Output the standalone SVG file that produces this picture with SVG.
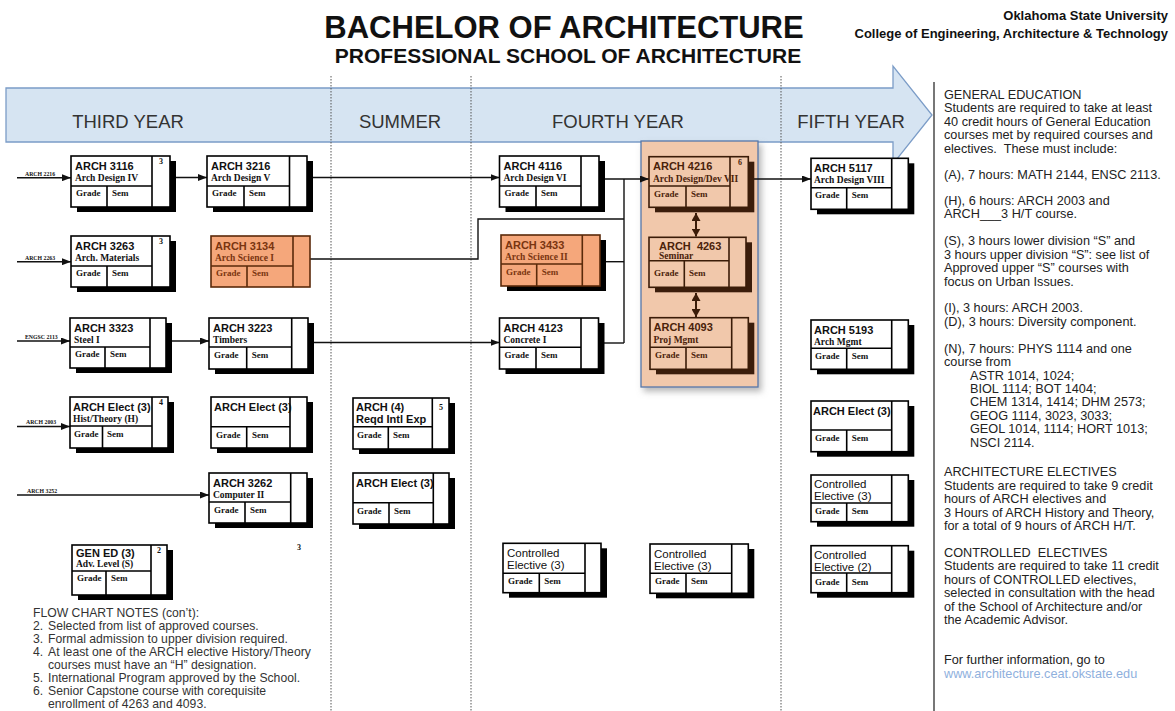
<svg xmlns="http://www.w3.org/2000/svg" width="1175" height="711" viewBox="0 0 1175 711">
<style>
.bx{fill:#fff;stroke:#000;stroke-width:1.6}
.bo{fill:#f5a77b;stroke:#5a2a0a;stroke-width:1.6}
.sh{fill:#000}
.shb{fill:#3b1d0b}
.dv{fill:none;stroke:#000;stroke-width:1.6}
.dvo{fill:none;stroke:#5a2a0a;stroke-width:1.6}
.dvc{fill:none;stroke:#3b1c08;stroke-width:1.6}
.code{font-family:"Liberation Sans",Arial,sans-serif;font-weight:bold;font-size:11px;fill:#111}
.sub{font-family:"Liberation Serif","Times New Roman",serif;font-weight:bold;font-size:9.5px;fill:#111}
.gs{font-family:"Liberation Serif","Times New Roman",serif;font-weight:bold;font-size:9px;fill:#111}
.num{font-family:"Liberation Serif","Times New Roman",serif;font-weight:bold;font-size:8px;fill:#111}
.ce{font-family:"Liberation Sans",Arial,sans-serif;font-size:11.5px;fill:#111}
.or{fill:#7a3510}
.cp{fill:#4a220a}
.in{font-family:"Liberation Serif","Times New Roman",serif;font-weight:bold;font-size:5.8px;fill:#111}
.ln{fill:none;stroke:#111;stroke-width:1.4}
.lnb{fill:none;stroke:#3b1c08;stroke-width:2}
.rt{font-family:"Liberation Sans",Arial,sans-serif;font-size:12.7px;fill:#222}
.nt{font-family:"Liberation Sans",Arial,sans-serif;font-size:12.2px;fill:#333}
.yr{font-family:"Liberation Sans",Arial,sans-serif;font-size:18.5px;fill:#333}
.dash{stroke:#555;stroke-width:1;stroke-dasharray:1.5,1.5}
</style>
<defs>
<marker id="ar" markerUnits="userSpaceOnUse" markerWidth="9" markerHeight="7" refX="9" refY="3.5" orient="auto">
<path d="M0,0 L9,3.5 L0,7 z" fill="#111"/>
</marker>
<marker id="arb" markerUnits="userSpaceOnUse" markerWidth="9" markerHeight="9" refX="8" refY="4.5" orient="auto-start-reverse">
<path d="M0,0 L8,4.5 L0,9 z" fill="#3b1c08"/>
</marker>
<filter id="soft" x="-20%" y="-20%" width="140%" height="140%">
<feDropShadow dx="3" dy="4" stdDeviation="3" flood-color="#888" flood-opacity="0.6"/>
</filter>
</defs>
<rect width="1175" height="711" fill="#fff"/>

<g id="title">
<text x="564" y="38" text-anchor="middle" font-family="Liberation Sans, Arial, sans-serif" font-weight="bold" font-size="31" fill="#111">BACHELOR OF ARCHITECTURE</text>
<text x="568" y="63" text-anchor="middle" font-family="Liberation Sans, Arial, sans-serif" font-weight="bold" font-size="21" fill="#111">PROFESSIONAL SCHOOL OF ARCHITECTURE</text>
<text x="1168" y="20" text-anchor="end" font-family="Liberation Sans, Arial, sans-serif" font-weight="bold" font-size="13" fill="#111">Oklahoma State University</text>
<text x="1168" y="38" text-anchor="end" font-family="Liberation Sans, Arial, sans-serif" font-weight="bold" font-size="13" fill="#111">College of Engineering, Architecture &amp; Technology</text>
</g>

<g id="timeline">
<path d="M6,88 H893 V66 L932,115 L893,164 V142 H6 Z" fill="#d6e4f2" stroke="#7b9cc7" stroke-width="1.3"/>
<line class="dash" x1="331" y1="76" x2="331" y2="711"/>
<line class="dash" x1="471" y1="76" x2="471" y2="711"/>
<line class="dash" x1="781" y1="76" x2="781" y2="711"/>
<text class="yr" x="128" y="128" text-anchor="middle">THIRD YEAR</text>
<text class="yr" x="400" y="128" text-anchor="middle">SUMMER</text>
<text class="yr" x="618" y="128" text-anchor="middle">FOURTH YEAR</text>
<text class="yr" x="851" y="128" text-anchor="middle">FIFTH YEAR</text>
<line x1="934" y1="82" x2="934" y2="711" stroke="#777" stroke-width="2"/>
</g>

<g id="capstone">
<rect x="641" y="141" width="117" height="246" fill="#f1c8ab" stroke="#5577aa" stroke-width="1.3" filter="url(#soft)"/>
</g>

<g id="connectors">
<path class="ln" d="M17,177.7 H71" marker-end="url(#ar)"/>
<text class="in" x="25" y="175.5">ARCH 2216</text>
<path class="ln" d="M17,261.7 H71" marker-end="url(#ar)"/>
<text class="in" x="25" y="259.5">ARCH 2263</text>
<path class="ln" d="M17,341 H70" marker-end="url(#ar)"/>
<text class="in" x="25" y="338.5">ENGSC 2113</text>
<path class="ln" d="M17,426.5 H70" marker-end="url(#ar)"/>
<text class="in" x="26" y="424">ARCH 2003</text>
<path class="ln" d="M17,495 H209" marker-end="url(#ar)"/>
<text class="in" x="27" y="492.5">ARCH 3252</text>
<path class="ln" d="M170,177.5 H207" marker-end="url(#ar)"/>
<path class="ln" d="M307,177.5 H499.5" marker-end="url(#ar)"/>
<path class="ln" d="M166,341 H209" marker-end="url(#ar)"/>
<path class="ln" d="M308,342.5 H499.5" marker-end="url(#ar)"/>
<path class="ln" d="M599,179 H649" marker-end="url(#ar)"/>
<path class="ln" d="M624,179 V343"/>
<path class="ln" d="M600,261.7 H624"/>
<path class="ln" d="M598.5,343 H624"/>
<path class="ln" d="M310,259 H478 V219 H624"/>
<path class="ln" d="M748.3,179 H811" marker-end="url(#ar)"/>
<path class="lnb" d="M696,213 V236.5" marker-start="url(#arb)" marker-end="url(#arb)"/>
<path class="lnb" d="M696,293 V317" marker-start="url(#arb)" marker-end="url(#arb)"/>
</g>

<g id="n3116">
<rect class="sh" x="77" y="161" width="99" height="51"/>
<rect class="bx" x="71" y="156" width="99" height="51"/>
<path class="dv" d="M152,156 V207 M71,186 H152 M107,186 V207"/>
<text class="code" x="75" y="170">ARCH 3116</text>
<text class="sub" x="75" y="180.5">Arch Design IV</text>
<text class="gs" x="76" y="196">Grade</text>
<text class="gs" x="112" y="196">Sem</text>
<text class="num" x="159" y="164">3</text>
</g>

<g id="n3216">
<rect class="sh" x="213" y="161" width="100" height="51"/>
<rect class="bx" x="207" y="156" width="100" height="51"/>
<path class="dv" d="M289.5,156 V207 M207,186 H289.5 M244,186 V207"/>
<text class="code" x="211" y="170">ARCH 3216</text>
<text class="sub" x="211" y="180.5">Arch Design V</text>
<text class="gs" x="212" y="196">Grade</text>
<text class="gs" x="249" y="196">Sem</text>
</g>

<g id="n3263">
<rect class="sh" x="77" y="241" width="99" height="51"/>
<rect class="bx" x="71" y="236" width="99" height="51"/>
<path class="dv" d="M152,236 V287 M71,266 H152 M107,266 V287"/>
<text class="code" x="75" y="250">ARCH 3263</text>
<text class="sub" x="75" y="260.5">Arch. Materials</text>
<text class="gs" x="76" y="276">Grade</text>
<text class="gs" x="112" y="276">Sem</text>
<text class="num" x="159" y="244">3</text>
</g>

<g id="n3134">
<rect class="bo" x="211" y="236" width="99" height="51"/>
<path class="dvo" d="M293,236 V287 M211,266 H293 M247,266 V287"/>
<text class="code or" x="215" y="250">ARCH 3134</text>
<text class="sub or" x="215" y="260.5">Arch Science I</text>
<text class="gs or" x="216" y="276">Grade</text>
<text class="gs or" x="252" y="276">Sem</text>
</g>

<g id="n3323">
<rect class="sh" x="76" y="323" width="96" height="50"/>
<rect class="bx" x="70" y="318" width="96" height="50"/>
<path class="dv" d="M150,318 V368 M70,347 H150 M105,347 V368"/>
<text class="code" x="74" y="332">ARCH 3323</text>
<text class="sub" x="74" y="342.5">Steel I</text>
<text class="gs" x="75" y="357">Grade</text>
<text class="gs" x="110" y="357">Sem</text>
</g>

<g id="n3223">
<rect class="sh" x="215" y="323" width="99" height="51"/>
<rect class="bx" x="209" y="318" width="99" height="51"/>
<path class="dv" d="M291.7,318 V369 M209,347 H291.7 M246.7,347 V369"/>
<text class="code" x="213" y="332">ARCH 3223</text>
<text class="sub" x="213" y="342.5">Timbers</text>
<text class="gs" x="214" y="357.5">Grade</text>
<text class="gs" x="251.7" y="357.5">Sem</text>
</g>

<g id="nElectH">
<rect class="sh" x="76" y="402" width="98" height="51"/>
<rect class="bx" x="70" y="397" width="98" height="51"/>
<path class="dv" d="M152,397 V448 M70,426 H152 M102.5,426 V448"/>
<text class="code" x="73" y="411">ARCH Elect (3)</text>
<text class="sub" x="73" y="421.5">Hist/Theory (H)</text>
<text class="gs" x="74" y="437">Grade</text>
<text class="gs" x="107" y="437">Sem</text>
<text class="num" x="159" y="405">4</text>
</g>

<g id="nElect3a">
<rect class="sh" x="217" y="402" width="96" height="51"/>
<rect class="bx" x="211" y="397" width="96" height="51"/>
<path class="dv" d="M290,397 V448 M211,426.7 H290 M246.7,426.7 V448"/>
<text class="code" x="214" y="411">ARCH Elect (3)</text>
<text class="gs" x="216" y="437.5">Grade</text>
<text class="gs" x="252" y="437.5">Sem</text>
</g>

<g id="n3262">
<rect class="sh" x="215" y="478" width="98" height="50"/>
<rect class="bx" x="209" y="473" width="98" height="50"/>
<path class="dv" d="M290.7,473 V523 M209,502 H290.7 M245,502 V523"/>
<text class="code" x="213" y="487">ARCH 3262</text>
<text class="sub" x="213" y="497.5">Computer II</text>
<text class="gs" x="214" y="512.5">Grade</text>
<text class="gs" x="250" y="512.5">Sem</text>
</g>

<g id="nGenEd">
<rect class="sh" x="78" y="550" width="95" height="50"/>
<rect class="bx" x="72" y="545" width="95" height="50"/>
<path class="dv" d="M151,545 V595 M72,571 H151 M106,571 V595"/>
<text class="code" x="76" y="557">GEN ED (3)</text>
<text class="sub" x="76" y="566.5">Adv. Level (S)</text>
<text class="gs" x="77" y="581">Grade</text>
<text class="gs" x="111" y="581">Sem</text>
<text class="num" x="157" y="553">2</text>
</g>

<g id="note3">
<text class="num" x="297" y="550">3</text>
</g>

<g id="nIntl">
<rect class="sh" x="359" y="403" width="96" height="51"/>
<rect class="bx" x="353" y="398" width="96" height="51"/>
<path class="dv" d="M432.3,398 V449 M353,426.7 H432.3 M388.3,426.7 V449"/>
<text class="code" x="356" y="411">ARCH (4)</text>
<text class="code" x="356" y="423">Reqd Intl Exp</text>
<text class="gs" x="357" y="437.5">Grade</text>
<text class="gs" x="393" y="437.5">Sem</text>
<text class="num" x="439" y="410">5</text>
</g>

<g id="nElectS">
<rect class="sh" x="359" y="478" width="96" height="51"/>
<rect class="bx" x="353" y="473" width="96" height="51"/>
<path class="dv" d="M433.3,473 V524 M353,502.7 H433.3 M389,502.7 V524"/>
<text class="code" x="356" y="487">ARCH Elect (3)</text>
<text class="gs" x="357" y="513.5">Grade</text>
<text class="gs" x="394" y="513.5">Sem</text>
</g>

<g id="n4116">
<rect class="sh" x="505.5" y="161" width="99.5" height="51"/>
<rect class="bx" x="499.5" y="156" width="99.5" height="51"/>
<path class="dv" d="M581,156 V207 M499.5,186 H581 M536,186 V207"/>
<text class="code" x="503.5" y="170">ARCH 4116</text>
<text class="sub" x="503.5" y="180.5">Arch Design VI</text>
<text class="gs" x="504.5" y="196">Grade</text>
<text class="gs" x="541" y="196">Sem</text>
</g>

<g id="n3433">
<rect class="sh" x="507" y="240" width="99" height="51"/>
<rect class="bo" x="501" y="235" width="99" height="51"/>
<path class="dvo" d="M582.3,235 V286 M501,264 H582.3 M536.7,264 V286"/>
<text class="code or" x="505" y="249">ARCH 3433</text>
<text class="sub or" x="505" y="259.5">Arch Science II</text>
<text class="gs or" x="506" y="275">Grade</text>
<text class="gs or" x="541.7" y="275">Sem</text>
</g>

<g id="n4123">
<rect class="sh" x="505.5" y="323" width="99" height="51"/>
<rect class="bx" x="499.5" y="318" width="99" height="51"/>
<path class="dv" d="M581,318 V369 M499.5,347.3 H581 M536,347.3 V369"/>
<text class="code" x="503.5" y="332">ARCH 4123</text>
<text class="sub" x="503.5" y="342.5">Concrete I</text>
<text class="gs" x="504.5" y="358">Grade</text>
<text class="gs" x="541" y="358">Sem</text>
</g>

<g id="n4216">
<rect class="shb" x="655" y="161.7" width="99.3" height="50.6"/>
<rect x="649" y="156.7" width="99.3" height="50.6" fill="#f1c8ab" stroke="#3b1c08" stroke-width="1.6"/>
<path class="dvc" d="M730,156.7 V207.3 M649,186 H730 M686,186 V207.3"/>
<text class="code cp" x="653" y="169.5">ARCH 4216</text>
<text class="sub cp" x="653" y="181.5">Arch Design/Dev VII</text>
<text class="gs cp" x="654" y="196.5">Grade</text>
<text class="gs cp" x="691" y="196.5">Sem</text>
<text class="num cp" x="738" y="165">6</text>
</g>

<g id="n4263">
<rect class="shb" x="655" y="242.3" width="97" height="50"/>
<rect x="649" y="237.3" width="97" height="50" fill="#f1c8ab" stroke="#3b1c08" stroke-width="1.6"/>
<path class="dvc" d="M729,237.3 V287.3 M649,260.7 H729 M684.3,260.7 V287.3"/>
<text class="code cp" x="659" y="250" xml:space="preserve">ARCH  4263</text>
<text class="sub cp" x="659" y="258.7">Seminar</text>
<text class="gs cp" x="654" y="276">Grade</text>
<text class="gs cp" x="689" y="276">Sem</text>
</g>

<g id="n4093">
<rect class="shb" x="656" y="322.7" width="98.3" height="51.6"/>
<rect x="650" y="317.7" width="98.3" height="51.6" fill="#f1c8ab" stroke="#3b1c08" stroke-width="1.6"/>
<path class="dvc" d="M731.7,317.7 V369.3 M650,347.3 H731.7 M686,347.3 V369.3"/>
<text class="code cp" x="653.5" y="331">ARCH 4093</text>
<text class="sub cp" x="653.5" y="342.7">Proj Mgmt</text>
<text class="gs cp" x="655" y="358">Grade</text>
<text class="gs cp" x="691" y="358">Sem</text>
</g>

<g id="nCE1">
<rect class="sh" x="509" y="548.3" width="98" height="49.4"/>
<rect class="bx" x="503" y="543.3" width="98" height="49.4"/>
<path class="dv" d="M585,543.3 V592.7 M503,573.3 H585 M539.3,573.3 V592.7"/>
<text class="ce" x="507" y="557">Controlled</text>
<text class="ce" x="507" y="569">Elective (3)</text>
<text class="gs" x="508" y="584">Grade</text>
<text class="gs" x="544.3" y="584">Sem</text>
</g>

<g id="nCE2">
<rect class="sh" x="656" y="549" width="98.3" height="49.3"/>
<rect class="bx" x="650" y="544" width="98.3" height="49.3"/>
<path class="dv" d="M731.7,544 V593.3 M650,573.3 H731.7 M686,573.3 V593.3"/>
<text class="ce" x="654" y="557.5">Controlled</text>
<text class="ce" x="654" y="569.5">Elective (3)</text>
<text class="gs" x="655" y="584">Grade</text>
<text class="gs" x="691" y="584">Sem</text>
</g>

<g id="n5117">
<rect class="sh" x="817" y="163.3" width="97.3" height="51"/>
<rect class="bx" x="811" y="158.3" width="97.3" height="51"/>
<path class="dv" d="M891.7,158.3 V209.3 M811,187.7 H891.7 M846.7,187.7 V209.3"/>
<text class="code" x="814" y="172">ARCH 5117</text>
<text class="sub" x="814" y="182.5">Arch Design VIII</text>
<text class="gs" x="815" y="198">Grade</text>
<text class="gs" x="851.7" y="198">Sem</text>
</g>

<g id="n5193">
<rect class="sh" x="817" y="325" width="97.3" height="49.3"/>
<rect class="bx" x="811" y="320" width="97.3" height="49.3"/>
<path class="dv" d="M891.7,320 V369.3 M811,348.3 H891.7 M846.7,348.3 V369.3"/>
<text class="code" x="814" y="334">ARCH 5193</text>
<text class="sub" x="814" y="344.5">Arch Mgmt</text>
<text class="gs" x="815" y="359">Grade</text>
<text class="gs" x="851.7" y="359">Sem</text>
</g>

<g id="nElect5">
<rect class="sh" x="817" y="406" width="97.3" height="50.7"/>
<rect class="bx" x="811" y="401" width="97.3" height="50.7"/>
<path class="dv" d="M891.7,401 V451.7 M811,430 H891.7 M846.7,430 V451.7"/>
<text class="code" x="813" y="415">ARCH Elect (3)</text>
<text class="gs" x="815" y="441">Grade</text>
<text class="gs" x="851.7" y="441">Sem</text>
</g>

<g id="nCE5a">
<rect class="sh" x="817" y="480" width="97.3" height="46.7"/>
<rect class="bx" x="811" y="475" width="97.3" height="46.7"/>
<path class="dv" d="M891.7,475 V521.7 M811,503 H891.7 M846.7,503 V521.7"/>
<text class="ce" x="814" y="488">Controlled</text>
<text class="ce" x="814" y="500">Elective (3)</text>
<text class="gs" x="815" y="514">Grade</text>
<text class="gs" x="851.7" y="514">Sem</text>
</g>

<g id="nCE5b">
<rect class="sh" x="817" y="550.7" width="97.3" height="47"/>
<rect class="bx" x="811" y="545.7" width="97.3" height="47"/>
<path class="dv" d="M891.7,545.7 V592.7 M811,573 H891.7 M846.7,573 V592.7"/>
<text class="ce" x="814" y="558.5">Controlled</text>
<text class="ce" x="814" y="570.5">Elective (2)</text>
<text class="gs" x="815" y="584.5">Grade</text>
<text class="gs" x="851.7" y="584.5">Sem</text>
</g>

<g id="notes">
<text class="nt" x="33" y="617">FLOW CHART NOTES (con’t):</text>
<text class="nt" x="33" y="630">2.</text><text class="nt" x="48" y="630">Selected from list of approved courses.</text>
<text class="nt" x="33" y="643">3.</text><text class="nt" x="48" y="643">Formal admission to upper division required.</text>
<text class="nt" x="33" y="656">4.</text><text class="nt" x="48" y="656">At least one of the ARCH elective History/Theory</text>
<text class="nt" x="48" y="669">courses must have an “H” designation.</text>
<text class="nt" x="33" y="682">5.</text><text class="nt" x="48" y="682">International Program approved by the School.</text>
<text class="nt" x="33" y="695">6.</text><text class="nt" x="48" y="695">Senior Capstone course with corequisite</text>
<text class="nt" x="48" y="708">enrollment of 4263 and 4093.</text>
</g>

<g id="sidebar">
<text class="rt" x="944" y="99">GENERAL EDUCATION</text>
<text class="rt" x="944" y="112.4">Students are required to take at least</text>
<text class="rt" x="944" y="125.8">40 credit hours of General Education</text>
<text class="rt" x="944" y="139.2">courses met by required courses and</text>
<text class="rt" x="944" y="152.6" xml:space="preserve">electives.  These must include:</text>
<text class="rt" x="944" y="178.5">(A), 7 hours: MATH 2144, ENSC 2113.</text>
<text class="rt" x="944" y="205">(H), 6 hours: ARCH 2003 and</text>
<text class="rt" x="944" y="218.4">ARCH___3 H/T course.</text>
<text class="rt" x="944" y="245.3">(S), 3 hours lower division “S” and</text>
<text class="rt" x="944" y="258.7">3 hours upper division “S”: see list of</text>
<text class="rt" x="944" y="272.1">Approved upper “S” courses with</text>
<text class="rt" x="944" y="285.5">focus on Urban Issues.</text>
<text class="rt" x="944" y="312.4">(I), 3 hours: ARCH 2003.</text>
<text class="rt" x="944" y="325.8">(D), 3 hours: Diversity component.</text>
<text class="rt" x="944" y="352.7">(N), 7 hours: PHYS 1114 and one</text>
<text class="rt" x="944" y="366.1">course from</text>
<text class="rt" x="970" y="379.5">ASTR 1014, 1024;</text>
<text class="rt" x="970" y="392.9">BIOL 1114; BOT 1404;</text>
<text class="rt" x="970" y="406.3">CHEM 1314, 1414; DHM 2573;</text>
<text class="rt" x="970" y="419.7">GEOG 1114, 3023, 3033;</text>
<text class="rt" x="970" y="433.1">GEOL 1014, 1114; HORT 1013;</text>
<text class="rt" x="970" y="446.5">NSCI 2114.</text>
<text class="rt" x="944" y="476.1">ARCHITECTURE ELECTIVES</text>
<text class="rt" x="944" y="489.6">Students are required to take 9 credit</text>
<text class="rt" x="944" y="503">hours of ARCH electives and</text>
<text class="rt" x="944" y="516.5">3 Hours of ARCH History and Theory,</text>
<text class="rt" x="944" y="529.9">for a total of 9 hours of ARCH H/T.</text>
<text class="rt" x="944" y="556.8" xml:space="preserve">CONTROLLED  ELECTIVES</text>
<text class="rt" x="944" y="570.3">Students are required to take 11 credit</text>
<text class="rt" x="944" y="583.7">hours of CONTROLLED electives,</text>
<text class="rt" x="944" y="597.2">selected in consultation with the head</text>
<text class="rt" x="944" y="610.6">of the School of Architecture and/or</text>
<text class="rt" x="944" y="624.1">the Academic Advisor.</text>
<text class="rt" x="944" y="664.4">For further information, go to</text>
<text class="rt" x="944" y="677.9" style="fill:#8fb0dd">www.architecture.ceat.okstate.edu</text>
</g>
</svg>
